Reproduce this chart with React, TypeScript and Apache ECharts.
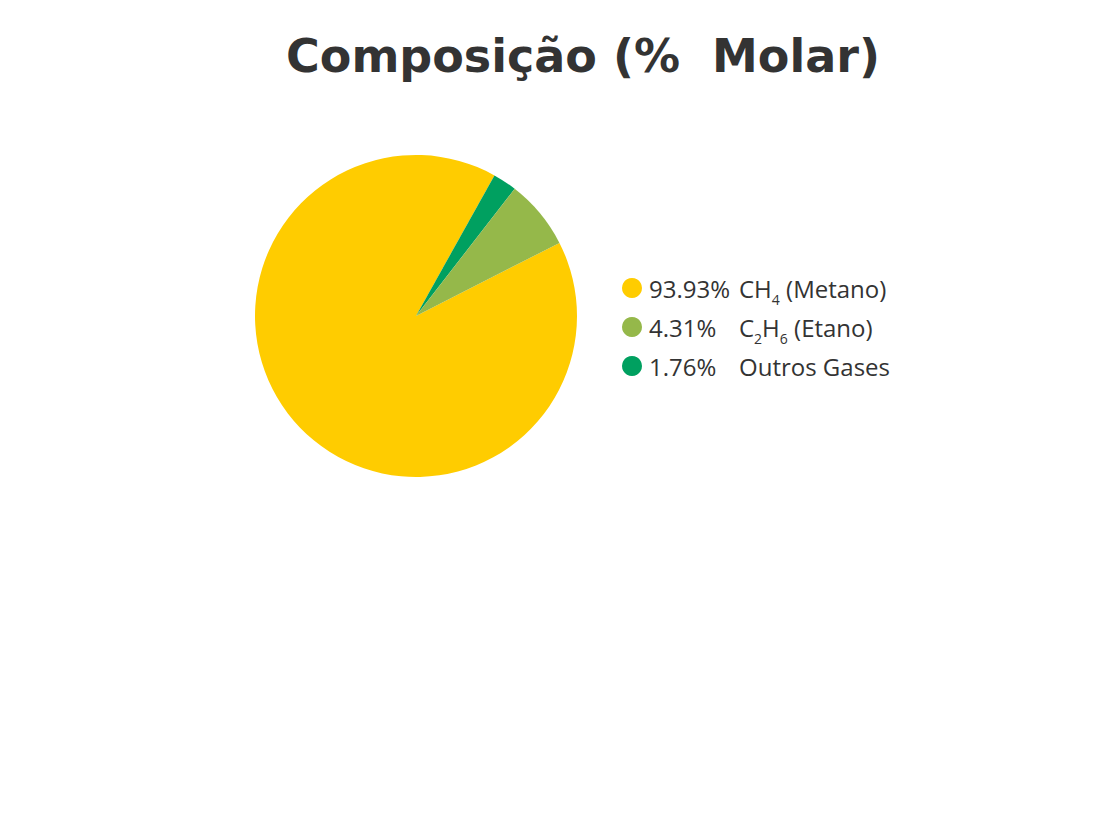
import { useEffect, useRef } from "react";
import * as echarts from "echarts";

const titleText = "Composição (%  Molar)";

// slice order follows the picture clockwise from the yellow edge
const sliceNames = ["CH4", "Outros", "C2H6"];
const sliceValues = [90.6, 2.4, 7.0];
const sliceColors = ["#FFCC00", "#00A060", "#95B84A"];

// legend order and its printed figures
const legendNames = ["CH4", "C2H6", "Outros"];
const legendPercents = ["93.93%", "4.31%", "1.76%"];
const legendLabels = [
  "{n|CH}{s|4}{n| (Metano)}",
  "{n|C}{s|2}{n|H}{s|6}{n| (Etano)}",
  "{n|Outros Gases}",
];

const textColor = "#333333";

const App = () => {
  const chartRef = useRef<HTMLDivElement | null>(null);

  useEffect(() => {
    if (!chartRef.current) {
      return;
    }
    const instance = echarts.init(chartRef.current, undefined, {
      renderer: "svg",
    });

    const option: echarts.EChartsOption = {
      animation: false,
      backgroundColor: "#ffffff",
      graphic: [
        {
          type: "text",
          x: 583,
          y: 33,
          style: {
            text: titleText,
            fill: textColor,
            fontFamily: "DejaVu Sans",
            fontWeight: "bold",
            fontSize: 46,
            align: "center",
            verticalAlign: "top",
          } as any,
        },
      ],
      legend: {
        orient: "vertical",
        left: 622,
        top: 276,
        padding: 0,
        itemGap: 9,
        itemWidth: 20,
        itemHeight: 20,
        icon: "circle",
        selectedMode: false,
        data: legendNames,
        formatter: (name: string) => {
          const i = legendNames.indexOf(name);
          return `{p|${legendPercents[i]}}${legendLabels[i]}`;
        },
        textStyle: {
          color: textColor,
          fontFamily: "Open Sans",
          fontSize: 24,
          rich: {
            p: {
              width: 90,
              fontSize: 24,
              lineHeight: 36,
              color: textColor,
              fontFamily: "Open Sans",
              padding: [0, 0, 0, 2],
            },
            n: {
              fontSize: 24,
              lineHeight: 36,
              color: textColor,
              fontFamily: "Open Sans",
            },
            s: {
              fontSize: 14,
              lineHeight: 14,
              verticalAlign: "bottom",
              color: textColor,
              fontFamily: "Open Sans",
            },
          },
        },
      },
      series: [
        {
          type: "pie",
          center: [416, 316],
          radius: 161,
          startAngle: 27,
          clockwise: true,
          label: { show: false },
          labelLine: { show: false },
          emphasis: { disabled: true },
          itemStyle: { borderWidth: 0 },
          data: sliceNames.map((name, i) => ({
            name,
            value: sliceValues[i],
            itemStyle: { color: sliceColors[i] },
          })),
        },
      ],
    };

    instance.setOption(option);

    return () => {
      instance.dispose();
    };
  }, []);

  return (
    <div
      ref={chartRef}
      style={{ position: "fixed", left: 0, top: 0, width: 1120, height: 840 }}
    />
  );
};

export default App;
